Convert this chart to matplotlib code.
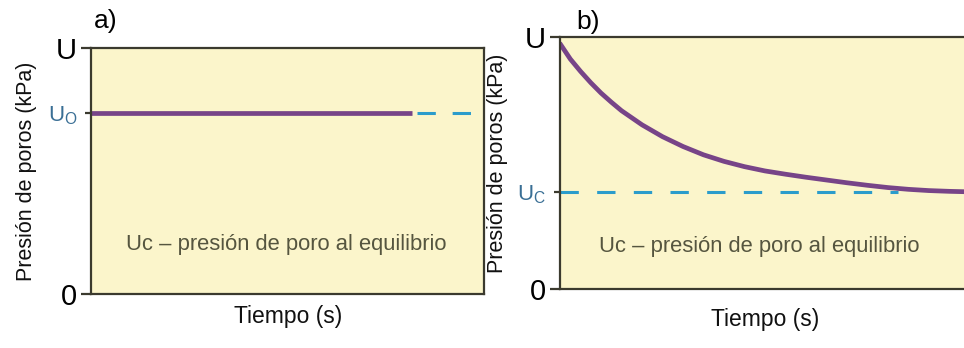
import numpy as np
import matplotlib.pyplot as plt

plt.rcParams['font.family'] = ['Liberation Sans', 'DejaVu Sans']
plt.rcParams['mathtext.fontset'] = 'custom'
plt.rcParams['mathtext.rm'] = 'Liberation Sans'

# -------------------------------------------------
# Datos (escala 0..1)
Uo_a = 0.736            # panel a: presion constante
t_sol_a = [0.0, 0.817]  # tramo solido
t_dash_a = [0.83, 1.0]  # tramo discontinuo

Uc_b = 0.385            # panel b: presion de equilibrio
t_b = [0.002, 0.025, 0.05, 0.075, 0.1, 0.125, 0.15, 0.2, 0.25, 0.3, 0.35, 0.4,
       0.45, 0.5, 0.55, 0.6, 0.65, 0.7, 0.75, 0.8, 0.85, 0.9, 0.95, 1.0]
u_b = [0.968, 0.912, 0.863, 0.818, 0.777, 0.741, 0.707, 0.651, 0.604, 0.565,
       0.532, 0.506, 0.485, 0.468, 0.455, 0.443, 0.432, 0.421, 0.411, 0.402,
       0.395, 0.390, 0.387, 0.385]
t_dash_b = [0.0, 0.825]

ylabel = 'Presión de poros (kPa)'
xlabel = 'Tiempo (s)'
nota = 'Uc – presión de poro al equilibrio'

# -------------------------------------------------
fondo = '#fbf5cb'
morado = '#774488'
cian = '#2b9ccb'
azul_txt = '#3a6f95'
borde = '#3b3a2e'
gris_txt = '#55553f'

fig = plt.figure(figsize=(9.64, 3.48), dpi=100)
ax_a = fig.add_axes([0.0944, 0.155, 0.408, 0.707])
ax_b = fig.add_axes([0.581, 0.170, 0.425, 0.724])


def estilo(ax, etiqueta_u, valor_u, ylab_x):
    ax.set_facecolor(fondo)
    ax.set_xlim(0, 1)
    ax.set_ylim(0, 1)
    for s in ax.spines.values():
        s.set_color(borde)
        s.set_linewidth(1.6)
    ax.set_xticks([])
    ax.set_yticks([0, valor_u, 1])
    ax.set_yticklabels(['0', etiqueta_u, 'U'])
    ax.tick_params(axis='y', length=7, width=1.6, color=borde, pad=3)
    labs = ax.get_yticklabels()
    labs[0].set_fontsize(21)
    labs[2].set_fontsize(21)
    labs[1].set_fontsize(16)
    labs[1].set_color(azul_txt)
    ticks = ax.yaxis.get_major_ticks()
    ticks[1].tick1line.set_color(azul_txt)
    ticks[1].tick1line.set_markersize(4)
    ax.set_ylabel(ylabel, fontsize=15.5, color='#111111')
    ax.yaxis.set_label_coords(ylab_x, 0.5)
    ax.set_xlabel(xlabel, fontsize=16.5, color='#111111', labelpad=8)


# Panel a
estilo(ax_a, r'$\mathregular{U_O}$', Uo_a, -0.137)
ax_a.plot(t_sol_a, [Uo_a, Uo_a], color=morado, lw=3.4, solid_capstyle='butt')
ax_a.plot(t_dash_a, [Uo_a, Uo_a], color=cian, lw=2.2, dashes=(6, 5.5))
ax_a.text(0.09, 0.18, nota, fontsize=15.8, color=gris_txt, transform=ax_a.transAxes)
ax_a.text(0.008, 1.08, 'a)', fontsize=19, transform=ax_a.transAxes)

# Panel b
estilo(ax_b, r'$\mathregular{U_C}$', Uc_b, -0.126)
ax_b.spines['right'].set_visible(False)
ax_b.plot(t_dash_b, [Uc_b, Uc_b], color=cian, lw=2.2, dashes=(6, 6))
ax_b.plot(t_b, u_b, color=morado, lw=3.4)
ax_b.text(0.095, 0.145, nota, fontsize=15.8, color=gris_txt, transform=ax_b.transAxes)
ax_b.text(0.04, 1.03, 'b)', fontsize=19, transform=ax_b.transAxes)
ax_b.xaxis.labelpad = 14

fig.savefig('out.png', dpi=100, facecolor='white')
